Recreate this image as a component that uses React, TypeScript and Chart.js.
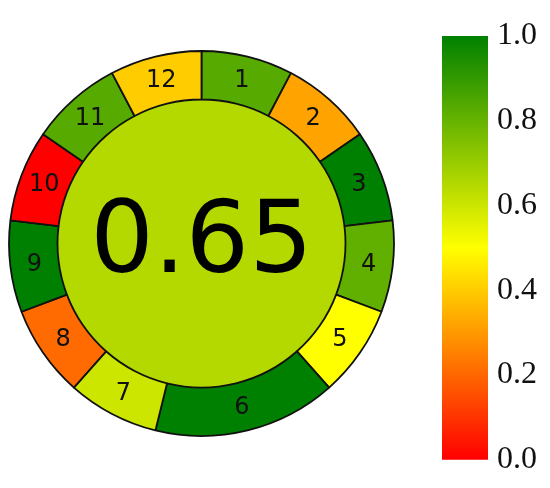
import React, { useEffect, useRef } from "react";
import { Chart, registerables } from "chart.js";

Chart.register(...registerables);

// ---- data ----
const segmentLabels = ["1", "2", "3", "4", "5", "6", "7", "8", "9", "10", "11", "12"];
const segmentWeights = [1, 1, 1, 1, 1, 2, 1, 1, 1, 1, 1, 1];
const segmentScores = [0.83, 0.32, 1.0, 0.81, 0.5, 1.0, 0.6, 0.21, 1.0, 0.0, 0.83, 0.4];
const totalScore = 0.65;
const colorbarTicks = [0, 0.2, 0.4, 0.6, 0.8, 1.0];
const cmapPositions = [0, 0.5, 1];
const cmapColors = [
  [255, 0, 0],
  [255, 255, 0],
  [0, 128, 0],
];

function cmap(v: number): string {
  const t = Math.max(0, Math.min(1, v));
  for (let i = 0; i < cmapPositions.length - 1; i++) {
    const a = cmapPositions[i];
    const b = cmapPositions[i + 1];
    if (t <= b) {
      const f = (t - a) / (b - a);
      const c0 = cmapColors[i];
      const c1 = cmapColors[i + 1];
      const c = c0.map((x, k) => Math.round(x + (c1[k] - x) * f));
      return `rgb(${c[0]},${c[1]},${c[2]})`;
    }
  }
  const c = cmapColors[cmapColors.length - 1];
  return `rgb(${c[0]},${c[1]},${c[2]})`;
}

const labelPlugin = {
  id: "segLabels",
  afterDatasetsDraw(chart: any) {
    const ctx = chart.ctx;
    const meta0 = chart.getDatasetMeta(0);
    ctx.save();
    ctx.fillStyle = "#111";
    ctx.textAlign = "center";
    ctx.textBaseline = "middle";
    ctx.font = '24px "DejaVu Sans"';
    meta0.data.forEach((arc: any, i: number) => {
      const p = arc.tooltipPosition();
      ctx.fillText(segmentLabels[i], p.x, p.y + 1);
    });
    const center = chart.getDatasetMeta(1).data[0];
    ctx.fillStyle = "#000";
    ctx.font = '100px "DejaVu Sans"';
    ctx.textBaseline = "alphabetic";
    ctx.fillText(totalScore.toFixed(2), center.x, center.y + 28);
    ctx.restore();
  },
};

export default function App() {
  const ringRef = useRef<HTMLCanvasElement>(null);
  const barRef = useRef<HTMLCanvasElement>(null);

  useEffect(() => {
    document.body.style.margin = "0";
    const ring = new Chart(ringRef.current!, {
      type: "doughnut",
      data: {
        labels: segmentLabels,
        datasets: [
          {
            data: segmentWeights,
            backgroundColor: segmentScores.map(cmap),
            borderColor: "#111",
            borderWidth: 1.8,
            weight: 48.5,
          } as any,
          {
            data: [1],
            backgroundColor: [cmap(totalScore)],
            borderWidth: 0,
            weight: 144,
          } as any,
        ],
      },
      options: {
        responsive: false,
        animation: false,
        events: [],
        radius: 192.5,
        cutout: 0,
        layout: { padding: 0 },
        plugins: { legend: { display: false }, tooltip: { enabled: false } },
      } as any,
      plugins: [labelPlugin],
    });

    const bar = new Chart(barRef.current!, {
      type: "bar",
      data: {
        labels: ["score"],
        datasets: [
          {
            data: [1],
            barPercentage: 1,
            categoryPercentage: 1,
            borderWidth: 0,
            backgroundColor: (c: any) => {
              const { chart } = c;
              const area = chart.chartArea;
              if (!area) return "#ffff00";
              const g = chart.ctx.createLinearGradient(0, area.bottom, 0, area.top);
              cmapPositions.forEach((p) => g.addColorStop(p, cmap(p)));
              return g;
            },
          } as any,
        ],
      },
      options: {
        responsive: false,
        animation: false,
        events: [],
        layout: { padding: { top: 36, bottom: 27, left: 0, right: 0 } },
        plugins: { legend: { display: false }, tooltip: { enabled: false } },
        scales: {
          x: { display: false },
          y: {
            position: "right",
            min: 0,
            max: 1,
            afterFit: (s: any) => {
              s.width = 62;
            },
            afterBuildTicks: (s: any) => {
              s.ticks = colorbarTicks.map((v) => ({ value: v }));
            },
            grid: { display: false, drawTicks: false },
            border: { display: false },
            ticks: {
              padding: 9,
              color: "#111",
              font: { family: '"Liberation Serif"', size: 32 },
              callback: (v: any) => Number(v).toFixed(1),
            },
          },
        },
      } as any,
    });

    return () => {
      ring.destroy();
      bar.destroy();
    };
  }, []);

  return (
    <div style={{ position: "fixed", left: 0, top: 0, width: 550, height: 488, background: "#fff" }}>
      <canvas ref={ringRef} width={403} height={487} style={{ position: "absolute", left: 0, top: 0 }} />
      <canvas ref={barRef} width={108} height={488} style={{ position: "absolute", left: 442, top: 0 }} />
    </div>
  );
}
